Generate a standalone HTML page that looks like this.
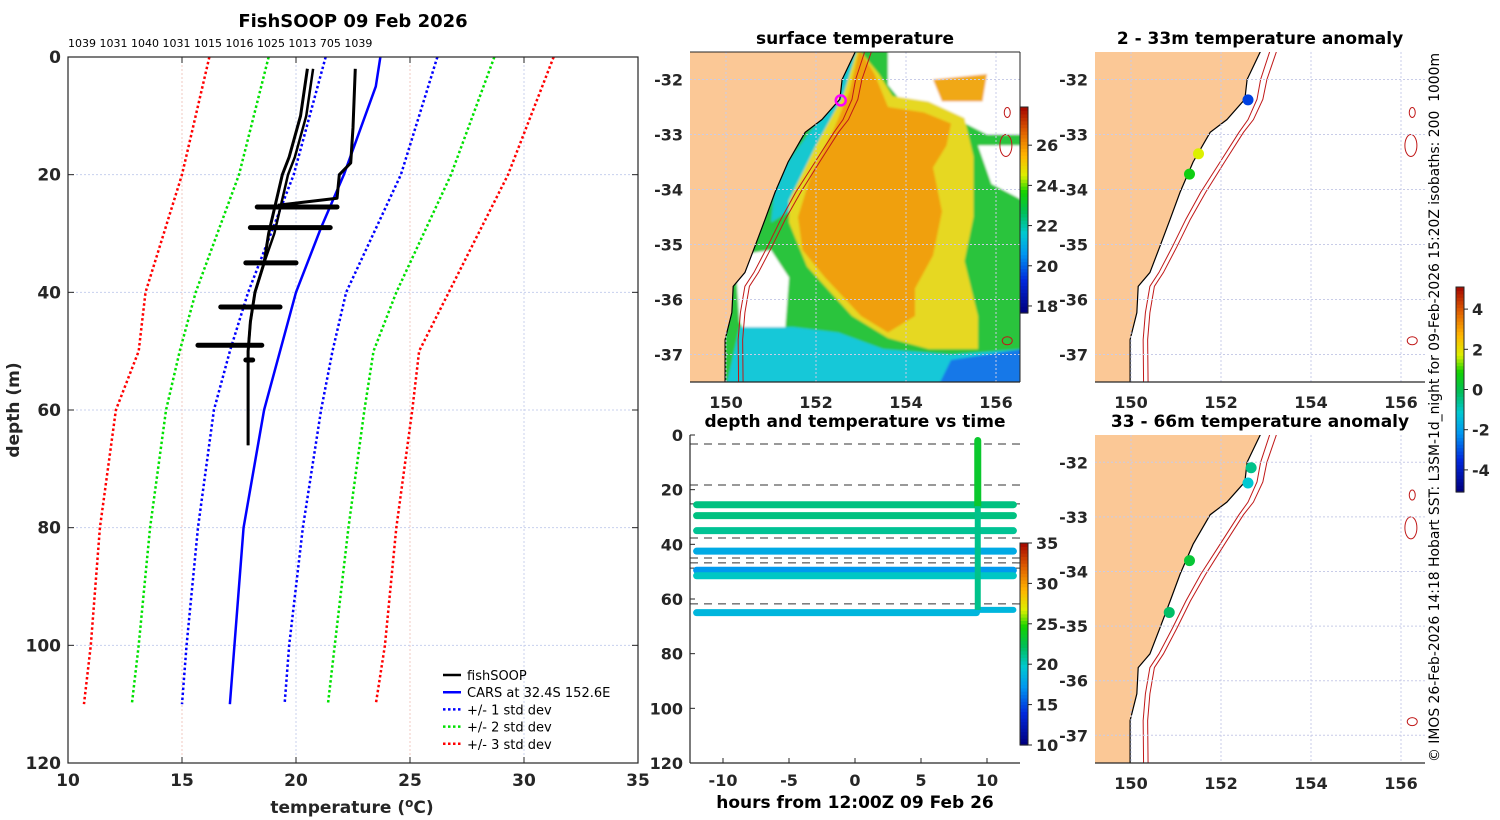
<!DOCTYPE html>
<html><head><meta charset="utf-8"><style>
html,body{margin:0;padding:0;background:#fff;}
svg{display:block;font-family:"DejaVu Sans","Liberation Sans",sans-serif;}
.tk{font-size:17px;font-weight:bold;fill:#262626;}
.mt{font-size:16px;font-weight:bold;fill:#262626;}
.ttl{font-size:17px;font-weight:bold;fill:#000;}
</style></head><body>
<svg id="fig" width="1500" height="820" viewBox="0 0 1500 820" xmlns="http://www.w3.org/2000/svg"></svg>
<script>
// ---------- Profile panel data ----------
const profDepths = [0,5,20,29,40,60,80,100,110];
const carsTemp   = [23.7,23.5,22.1,21.1,20.0,18.6,17.7,17.3,17.1];
const sdDepths   = [0,20,40,50,60,80,100,110];
const sd1Lo = [21.3,19.9,17.9,17.1,16.4,15.7,15.2,15.0];
const sd1Hi = [26.2,24.6,22.2,21.6,21.1,20.3,19.7,19.5];
const sd2Lo = [18.8,17.5,15.6,14.9,14.3,13.6,13.1,12.8];
const sd2Hi = [28.7,26.8,24.4,23.4,23.0,22.3,21.7,21.4];
const sd3Lo = [16.2,15.0,13.4,13.1,12.1,11.4,11.0,10.7];
const sd3Hi = [31.3,29.3,26.7,25.4,25.1,24.4,23.9,23.5];
const fishADepth = [2,10,17,20,25,30,35,40,45,50,60,66];
const fishATemp  = [20.5,20.2,19.7,19.4,19.1,18.8,18.6,18.2,18.0,17.9,17.9,17.9];
const fishBDepth = [2,12,18,20,24,25.2];
const fishBTemp  = [22.6,22.5,22.4,21.9,21.8,19.2];
const blobDepth = [25.5,29,35,42.5,49,51.5];
const blobTmin  = [18.3,18.0,17.8,16.7,15.7,17.8];
const blobTmax  = [21.8,21.5,20.0,19.3,18.5,18.1];
const topNumbers = ["1039","1031","1040","1031","1015","1016","1025","1013","705","1039"];
const tempTicks = [10,15,20,25,30,35];
const depthTicks = [0,20,40,60,80,100,120];
// ---------- Time panel data ----------
const bandDepth = [25.5,29.5,35,42.5,49.5,51.5,65];
const bandTemp  = [21.2,21.2,20.8,18.0,17.2,19.8,18.6];
const bandEnd   = [12,12,12,12,12,12,9.2];
const dashDepth = [3.3,18.3,25.2,37.7,45,46.8,48.7,61.8];
const vertTime = 9.3;
const hourTicks = [-10,-5,0,5,10];
const timeCbTicks = [10,15,20,25,30,35];
// ---------- Map data ----------
const coastLat = [-31.45,-32.0,-32.36,-32.73,-32.96,-33.5,-34.05,-34.54,-35.04,-35.51,-35.76,-36.24,-36.73,-37.55];
const coastLon = [152.9,152.58,152.53,152.13,151.76,151.38,151.09,150.87,150.64,150.42,150.16,150.13,149.98,149.98];
const iso200Lon = [153.1,152.88,152.8,152.6,152.4,151.98,151.55,151.22,150.92,150.62,150.42,150.32,150.27,150.28];
const iso1000Lon= [153.25,153.02,152.93,152.72,152.5,152.08,151.66,151.32,151.02,150.72,150.52,150.42,150.37,150.38];
const lonTicks = [150,152,154,156];
const latTicks = [-32,-33,-34,-35,-36,-37];
const sstTicks = [18,20,22,24,26];
const anomTicks = [-4,-2,0,2,4];
const dots1Lon=[152.6,151.5,151.3], dots1Lat=[-32.37,-33.35,-33.72], dots1Val=[-3.2,1.6,0.6];
const dots2Lon=[152.67,152.6,151.3,150.85], dots2Lat=[-32.1,-32.38,-33.8,-34.75], dots2Val=[-0.6,-1.2,0.2,-0.3];

const svg=document.getElementById('fig');
const NS='http://www.w3.org/2000/svg';
function mk(tag,attrs,parent){const e=document.createElementNS(NS,tag);for(const k in attrs)e.setAttribute(k,attrs[k]);(parent||svg).appendChild(e);return e;}
function txt(x,y,s,cls,anchor,parent,extra){const t=mk('text',Object.assign({x:x,y:y,'class':cls||'tk','text-anchor':anchor||'middle'},extra||{}),parent);t.textContent=s;return t;}
function cmap(v){
  const st=[[0,[0,0,128]],[0.15,[0,40,220]],[0.28,[0,150,240]],[0.38,[0,200,210]],[0.48,[0,190,90]],[0.58,[20,210,0]],[0.66,[220,240,0]],[0.76,[255,180,0]],[0.88,[220,90,0]],[1,[160,0,0]]];
  v=Math.max(0,Math.min(1,v));
  for(let i=1;i<st.length;i++){if(v<=st[i][0]){const a=st[i-1],b=st[i];const f=(v-a[0])/(b[0]-a[0]);const c=a[1].map((x,j)=>Math.round(x+(b[1][j]-x)*f));return 'rgb('+c.join(',')+')';}}
  return 'rgb(160,0,0)';
}

// ================= Panel 1: profile =================
const P1={x0:68,x1:638,y0:57,y1:763};
const tx=t=>P1.x0+(t-10)/25*(P1.x1-P1.x0);
const dy=d=>P1.y0+d/120*(P1.y1-P1.y0);
const g1=mk('g',{});


tempTicks.forEach(t=>{if(t>10&&t<35){mk('line',{x1:tx(t),x2:tx(t),y1:P1.y0,y2:P1.y1,stroke:(t%10==0?'#c8d0ee':'#f0c8c0'),'stroke-width':1,'stroke-dasharray':'2,2'},g1);}});
depthTicks.forEach(d=>{if(d>0&&d<120){mk('line',{x1:P1.x0,x2:P1.x1,y1:dy(d),y2:dy(d),stroke:'#c8d0ee','stroke-width':1,'stroke-dasharray':'2,2'},g1);}});
function poly(ts,ds,color,dash,w,name,par){
  const p=mk('polyline',{points:ts.map((t,i)=>tx(t)+','+dy(ds[i])).join(' '),fill:'none',stroke:color,'stroke-width':w,'stroke-dasharray':dash||'none','stroke-linejoin':'round'},par);
  
  
  return p;
}
poly(sd3Lo,sdDepths,'#ff0000','2.5,2.5',2.5,'sd3-low-line',g1);
poly(sd3Hi,sdDepths,'#ff0000','2.5,2.5',2.5,'sd3-high-line',g1);
poly(sd2Lo,sdDepths,'#00e000','2.5,2.5',2.5,'sd2-low-line',g1);
poly(sd2Hi,sdDepths,'#00e000','2.5,2.5',2.5,'sd2-high-line',g1);
poly(sd1Lo,sdDepths,'#0000ff','2.5,2.5',2.5,'sd1-low-line',g1);
poly(sd1Hi,sdDepths,'#0000ff','2.5,2.5',2.5,'sd1-high-line',g1);
poly(carsTemp,profDepths,'#0000ff',null,2.5,'cars-line',g1);
poly(fishATemp,fishADepth,'#000',null,3,'fishsoop-profile-a',g1);
poly(fishATemp.map((t,i)=>i<6?t+0.25:t),fishADepth,'#000',null,2.5,'fishsoop-profile-a2',g1);
poly(fishBTemp,fishBDepth,'#000',null,3,'fishsoop-profile-b',g1);
blobDepth.forEach((d,i)=>{
  const b=mk('line',{x1:tx(blobTmin[i]),x2:tx(blobTmax[i]),y1:dy(d),y2:dy(d),stroke:'#000','stroke-width':5,'stroke-linecap':'round'},g1);
  
  
});
mk('rect',{x:P1.x0,y:P1.y0,width:P1.x1-P1.x0,height:P1.y1-P1.y0,fill:'none',stroke:'#262626','stroke-width':1.2},g1);
tempTicks.forEach(t=>{mk('line',{x1:tx(t),x2:tx(t),y1:P1.y1,y2:P1.y1-6,stroke:'#262626'},g1);mk('line',{x1:tx(t),x2:tx(t),y1:P1.y0,y2:P1.y0+6,stroke:'#262626'},g1);const l=txt(tx(t),786,String(t),'tk','middle',g1);});
depthTicks.forEach(d=>{mk('line',{x1:P1.x0,x2:P1.x0+6,y1:dy(d),y2:dy(d),stroke:'#262626'},g1);mk('line',{x1:P1.x1,x2:P1.x1-6,y1:dy(d),y2:dy(d),stroke:'#262626'},g1);const l=txt(61,dy(d)+6,String(d),'tk','end',g1);});
const t1=txt(353,27,'FishSOOP 09 Feb 2026','ttl','middle',g1,{style:'font-size:18px'});
const nums=txt(68,47,topNumbers.join(' '),'tk','start',g1,{style:'font-size:11px;font-weight:normal;fill:#000'});

const xl=mk('text',{x:352,y:813,'class':'tk','text-anchor':'middle'},g1);xl.innerHTML='temperature (<tspan dy="-6" font-size="12">o</tspan><tspan dy="6">C)</tspan>';

const yl=txt(0,0,'depth (m)','tk','middle',g1,{transform:'translate(19,410) rotate(-90)'});

const legNames=['fishSOOP','CARS at 32.4S 152.6E','+/- 1 std dev','+/- 2 std dev','+/- 3 std dev'];
const legCol=['#000','#0000ff','#0000ff','#00e000','#ff0000'];
const legDash=[null,null,'2.5,2.5','2.5,2.5','2.5,2.5'];
legNames.forEach((n,i)=>{const y=675+i*17.2;const g=mk('g',{},g1);
  mk('line',{x1:443,x2:461,y1:y,y2:y,stroke:legCol[i],'stroke-width':2.5,'stroke-dasharray':legDash[i]||'none'},g);
  txt(467,y+5,n,'tk','start',g,{style:'font-size:13px;font-weight:normal;fill:#000'});});

// ================= Map helpers =================
function mapPanel(name,ax,title,isSST,dLon,dLat,dVal){
  const g=mk('g',{});
  const px=lo=>ax.x0+(lo-149.2)*45, py=la=>ax.y0+(-31.5-la)*ax.k;
  const clipId='clip'+name;const cp=mk('clipPath',{id:clipId},g);mk('rect',{x:ax.x0,y:ax.y0,width:ax.x1-ax.x0,height:ax.y1-ax.y0},cp);
  const inner=mk('g',{'clip-path':'url(#'+clipId+')'},g);
  if(isSST){
    const f=mk('filter',{id:'bl'},g);mk('feGaussianBlur',{stdDeviation:1},f);
    const s=mk('g',{filter:'url(#bl)'},inner);
    const P=(pts,c)=>mk('polygon',{points:pts.map(p=>px(p[0])+','+py(p[1])).join(' '),fill:c},s);
    P([[149.2,-31.4],[156.6,-31.4],[156.6,-37.6],[149.2,-37.6]],'#2cc43c');
    P([[152.6,-31.5],[152.9,-31.5],[152.7,-32.3],[152.1,-33.2],[151.4,-34.4],[151.0,-34.6],[151.1,-33.8],[152.0,-32.8],[152.5,-32.2]],'#18c8d0');
    P([[153.6,-31.4],[156.6,-31.4],[156.6,-33.0],[155.8,-33.0],[155.2,-32.75],[154.5,-32.5],[154.0,-32.5],[153.6,-32.1]],'#ffffff');
    P([[155.6,-33.2],[156.6,-33.2],[156.6,-34.2],[155.9,-33.9]],'#ffffff');
    P([[150.2,-35.2],[151.0,-35.1],[151.4,-35.6],[151.3,-36.7],[150.6,-36.9],[150.3,-36.4]],'#ffffff');
    P([[154.6,-32.0],[155.8,-31.9],[155.7,-32.4],[154.8,-32.4]],'#f0a818');
    P([[153.0,-31.5],[153.4,-31.9],[153.7,-32.3],[154.5,-32.4],[155.3,-32.7],[155.5,-33.4],[155.5,-34.5],[155.3,-35.3],[155.6,-36.3],[155.6,-36.9],[154.5,-36.9],[153.6,-36.7],[152.8,-36.3],[151.8,-35.4],[151.4,-34.6],[151.4,-34.2],[152.0,-33.2],[152.6,-32.3],[152.9,-31.5]],'#e6d820');
    P([[153.0,-31.5],[153.3,-31.9],[153.6,-32.5],[154.4,-32.6],[155.0,-32.8],[154.9,-33.2],[154.6,-33.6],[154.8,-34.4],[154.6,-35.2],[154.2,-35.8],[154.2,-36.3],[153.6,-36.6],[153.0,-36.3],[152.2,-35.6],[151.7,-35.1],[151.6,-34.5],[151.9,-33.7],[152.4,-32.9],[152.75,-32.2],[152.95,-31.5]],'#f0a010');
    P([[150.3,-36.5],[151.5,-36.5],[152.5,-36.6],[153.5,-36.9],[155.0,-37.0],[156.6,-36.9],[156.6,-37.6],[150.0,-37.6]],'#18c8d8');
    P([[155.0,-37.1],[156.6,-36.9],[156.6,-37.6],[154.7,-37.6]],'#1878e8');
  }
  const cpts=coastLon.map((lo,i)=>px(lo)+','+py(coastLat[i]));
  const land=mk('polygon',{points:[ax.x0+','+(ax.y0-5)].concat(cpts).concat([ax.x0+','+(ax.y1+5)]).join(' '),fill:'#fbc896',stroke:'none'},inner);
  
  const cl=mk('polyline',{points:cpts.join(' '),fill:'none',stroke:'#000','stroke-width':1.2},inner);
  
  [iso200Lon,iso1000Lon].forEach(arr=>{const iso=mk('polyline',{points:arr.map((lo,i)=>px(lo)+','+py(coastLat[i])).join(' '),fill:'none',stroke:'#c01818','stroke-width':1},inner);});
  [[156.25,-32.6,3,5],[156.22,-33.2,6,11],[156.25,-36.75,5,4]].forEach(a=>mk('ellipse',{cx:px(a[0]),cy:py(a[1]),rx:a[2],ry:a[3],fill:'none',stroke:'#c01818','stroke-width':1},inner));
  lonTicks.forEach(lo=>mk('line',{x1:px(lo),x2:px(lo),y1:ax.y0,y2:ax.y1,stroke:'#c8cce8','stroke-dasharray':'2,2','stroke-width':1},g));
  latTicks.forEach(la=>mk('line',{x1:ax.x0,x2:ax.x1,y1:py(la),y2:py(la),stroke:'#c8cce8','stroke-dasharray':'2,2','stroke-width':1},g));
  if(dLon){dLon.forEach((lo,i)=>{const c=mk('circle',{cx:px(lo),cy:py(dLat[i]),r:5.5,fill:cmap((dVal[i]+5)/10)},g);});}
  if(isSST){const m=mk('circle',{cx:px(152.55),cy:py(-32.38),r:5,fill:'none',stroke:'#ff00ff','stroke-width':2.5},g);}
  mk('line',{x1:ax.x0,x2:ax.x1,y1:ax.y1,y2:ax.y1,stroke:'#262626','stroke-width':1.2},g);
  if(isSST){mk('line',{x1:ax.x0,x2:ax.x1,y1:ax.y0,y2:ax.y0,stroke:'#262626'},g);mk('line',{x1:ax.x1,x2:ax.x1,y1:ax.y0,y2:ax.y1,stroke:'#262626'},g);}
  lonTicks.forEach(lo=>{const l=txt(px(lo),ax.y1+26,String(lo),'mt','middle',g);});
  latTicks.forEach(la=>{const l=txt(ax.x0-7,py(la)+6,String(la),'mt','end',g);});
  const t=txt((ax.x0+ax.x1)/2,ax.y0-8,title,'ttl','middle',g);
}
mapPanel('sst-map',{x0:690,x1:1020,y0:52,y1:382,k:55},'surface temperature',true);
mapPanel('anomaly-map-shallow',{x0:1095,x1:1425,y0:52,y1:382,k:55},'2 - 33m temperature anomaly',false,dots1Lon,dots1Lat,dots1Val);
mapPanel('anomaly-map-deep',{x0:1095,x1:1425,y0:435,y1:763,k:54.6},'33 - 66m temperature anomaly',false,dots2Lon,dots2Lat,dots2Val);

function colorbar(name,x,y0,y1,vmin,vmax,ticks,w){
  const g=mk('g',{});
  const n=60;for(let i=0;i<n;i++){const v=i/n;mk('rect',{x:x,y:y1-(i+1)*(y1-y0)/n,width:w,height:(y1-y0)/n+0.6,fill:cmap(v)},g);}
  mk('rect',{x:x,y:y0,width:w,height:y1-y0,fill:'none',stroke:'#262626','stroke-width':1},g);
  ticks.forEach(t=>{const y=y1-(t-vmin)/(vmax-vmin)*(y1-y0);mk('line',{x1:x+w,x2:x+w+4,y1:y,y2:y,stroke:'#262626'},g);const l=txt(x+w+8,y+6,String(t),'mt','start',g);});
}
colorbar('sst-colorbar',1020,107,313,17.65,27.9,sstTicks,8);
colorbar('time-colorbar',1020,543,745,10,35,timeCbTicks,8);
colorbar('anomaly-colorbar',1456,287,492,-5.1,5.1,anomTicks,8);

// ================= Time panel =================
const P3={x0:690,x1:1020,y0:435,y1:763};
const hx=h=>P3.x0+(h+12.5)/25*(P3.x1-P3.x0);
const ty=d=>P3.y0+d/120*(P3.y1-P3.y0);
const g3=mk('g',{});
dashDepth.forEach(d=>{const l=mk('line',{x1:P3.x0,x2:P3.x1,y1:ty(d),y2:ty(d),stroke:'#333','stroke-width':1,'stroke-dasharray':'8,6'},g3);});
bandDepth.forEach((d,i)=>{const b=mk('line',{x1:hx(-12),x2:hx(bandEnd[i]),y1:ty(d),y2:ty(d),stroke:cmap((bandTemp[i]-10)/25),'stroke-width':7,'stroke-linecap':'round'},g3);});
const tail=mk('line',{x1:hx(9.3),x2:hx(12),y1:ty(64),y2:ty(64),stroke:cmap((18.6-10)/25),'stroke-width':6,'stroke-linecap':'round'},g3);

const vt1=mk('line',{x1:hx(vertTime),x2:hx(vertTime),y1:ty(2),y2:ty(26),stroke:cmap(0.53),'stroke-width':7,'stroke-linecap':'round'},g3);

const vt2=mk('line',{x1:hx(vertTime),x2:hx(vertTime),y1:ty(26),y2:ty(64),stroke:cmap(0.44),'stroke-width':6},g3);

mk('line',{x1:P3.x0,x2:P3.x0,y1:P3.y0,y2:P3.y1,stroke:'#262626','stroke-width':1.2},g3);
mk('line',{x1:P3.x0,x2:P3.x1,y1:P3.y1,y2:P3.y1,stroke:'#262626','stroke-width':1.2},g3);
hourTicks.forEach(h=>{mk('line',{x1:hx(h),x2:hx(h),y1:P3.y1,y2:P3.y1-5,stroke:'#262626'},g3);const l=txt(hx(h),786,String(h),'mt','middle',g3);});
depthTicks.forEach(d=>{mk('line',{x1:P3.x0,x2:P3.x0+5,y1:ty(d),y2:ty(d),stroke:'#262626'},g3);const l=txt(683,ty(d)+6,String(d),'mt','end',g3);});
const t3=txt(855,427,'depth and temperature vs time','ttl','middle',g3);
const x3=txt(855,808,'hours from 12:00Z 09 Feb 26','ttl','middle',g3);

const cr=txt(0,0,'\u00A9 IMOS 26-Feb-2026 14:18 Hobart SST: L3SM-1d_night for 09-Feb-2026 15:20Z isobaths: 200\u00A0\u00A01000m','mt','start',svg,{transform:'translate(1439,762) rotate(-90)',style:'font-size:13.9px;font-weight:normal;fill:#000'});

</script>
</body></html>
